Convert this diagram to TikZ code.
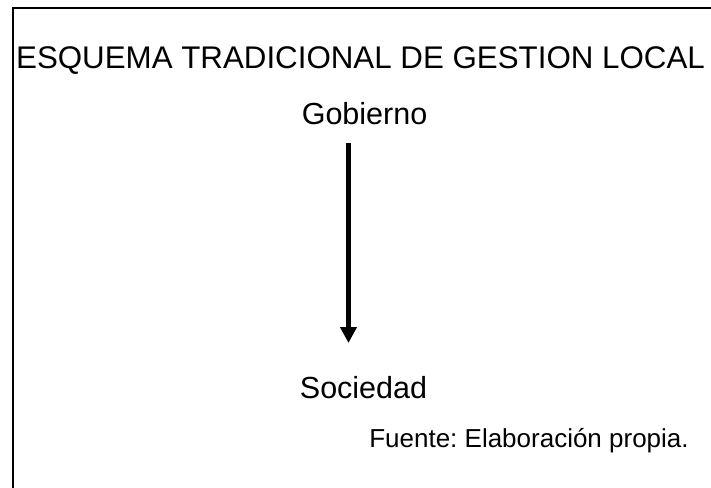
\documentclass[tikz,border=0pt]{standalone}
\usepackage{fontspec}
\setmainfont{Liberation Sans}
\usetikzlibrary{arrows.meta}
\frenchspacing
\tikzset{
  texto/.style={inner sep=0pt, anchor=base, font=\fontsize{30.5}{34}\selectfont},
  flecha/.style={line width=5.5pt, -{Triangle[width=16pt,length=16pt]}},
}
\begin{document}
\begin{tikzpicture}[x=1pt,y=-1pt]
\useasboundingbox (0,0) rectangle (711,487);
\clip (0,0) rectangle (711,487);
%\draw[help lines](0,0)grid(711,487);
\draw[line width=2pt] (13,495)--(13,8.5)--(720,8.5);
\node[texto, font=\fontsize{31.3}{36}\selectfont] (titulo) at (360.5,68) {ESQUEMA TRADICIONAL DE GESTION LOCAL};
\node[texto] (gob) at (364.5,124) {Gobierno};
\node[texto] (soc) at (363.5,398) {Sociedad};
\node[texto, font=\fontsize{26}{30}\selectfont] (fuente) at (529,447) {Fuente: Elaboración propia.};
\path (gob.base) ++(-16,19) coordinate (ini);
\path (soc.base) ++(-15,-55) coordinate (fin);
\draw[flecha] (ini)--(fin);
\end{tikzpicture}
\end{document}
